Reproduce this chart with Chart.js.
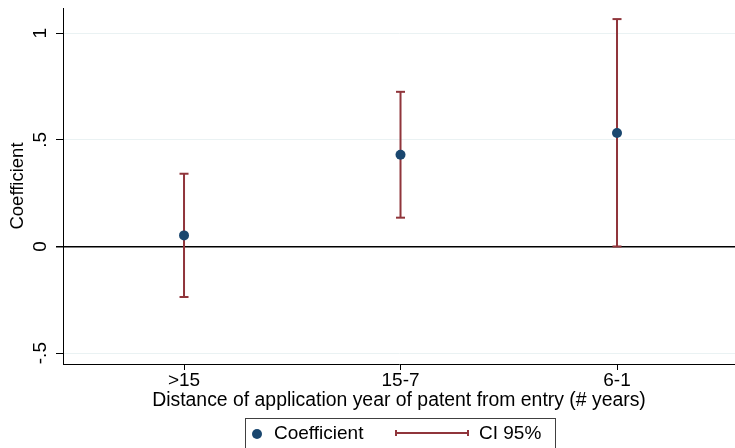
<!DOCTYPE html>
<html>
<head>
<meta charset="utf-8">
<script src="https://cdn.jsdelivr.net/npm/chart.js@4/dist/chart.umd.min.js"></script>
<style>
  html, body { margin: 0; padding: 0; background: #fff; }
  #wrap { position: relative; width: 735px; height: 448px; overflow: hidden; font-family: "Liberation Sans", Arial, sans-serif; }
  #legendBox { position: absolute; left: 245px; top: 418px; width: 311px; height: 40px; border: 1px solid #404040; box-sizing: border-box; }
  .abs { position: absolute; }
  .txt { font-size: 19px; line-height: 19px; color: #000; white-space: nowrap; }
</style>
</head>
<body>
<div id="wrap">
  <canvas id="coefChart" width="735" height="448"></canvas>
  <div id="legendBox"></div>
  <div class="abs" style="left:252px;top:429px;width:10px;height:10px;border-radius:50%;background:#1a476f"></div>
  <div class="abs txt" style="left:274px;top:423px">Coefficient</div>
  <div class="abs" style="left:395px;top:432px;width:74px;height:2px;background:#90353b"></div>
  <div class="abs" style="left:395px;top:430px;width:2px;height:6px;background:#90353b"></div>
  <div class="abs" style="left:467px;top:430px;width:2px;height:6px;background:#90353b"></div>
  <div class="abs txt" style="left:479px;top:423px">CI 95%</div>
</div>
<script>
// Data
const categories = [">15", "15-7", "6-1"];
const coefficients = [0.052, 0.43, 0.532];
const ciLower = [-0.237, 0.135, 0.0];
const ciUpper = [0.341, 0.725, 1.066];
const yTicks = [-0.5, 0, 0.5, 1];
const yTickLabels = ["-.5", "0", ".5", "1"];

const navy = "#1a476f";
const maroon = "#90353b";
const fontFamily = "'Liberation Sans', Arial, sans-serif";

// points for the coefficient markers
const coefPoints = categories.map((c, i) => ({ x: i + 1, y: coefficients[i] }));

// CI segments, separated by null gaps
const ciPoints = [];
categories.forEach((c, i) => {
    ciPoints.push({ x: i + 1, y: ciLower[i] });
    ciPoints.push({ x: i + 1, y: ciUpper[i] });
    ciPoints.push({ x: i + 1, y: null });
});

// rotated y tick labels, like Stata does them
const yLabelPlugin = {
    id: "yLabels",
    afterDraw(chart) {
        const ctx = chart.ctx;
        const yScale = chart.scales.y;
        ctx.save();
        ctx.fillStyle = "#000";
        ctx.font = "19px " + fontFamily;
        ctx.textAlign = "center";
        ctx.textBaseline = "alphabetic";
        yScale.ticks.forEach(t => {
            const idx = yTicks.indexOf(t.value);
            if (idx < 0) return;
            const py = yScale.getPixelForValue(t.value);
            ctx.save();
            ctx.translate(46, py);
            ctx.rotate(-Math.PI / 2);
            ctx.fillText(yTickLabels[idx], 0, 0);
            ctx.restore();
        });
        ctx.restore();
    }
};

new Chart(document.getElementById("coefChart"), {
    type: "scatter",
    data: {
        datasets: [
            {
                label: "Coefficient",
                data: coefPoints,
                backgroundColor: navy,
                borderColor: navy,
                pointRadius: 5,
                pointBorderWidth: 0,
                showLine: false
            },
            {
                label: "CI 95%",
                type: "line",
                data: ciPoints,
                borderColor: maroon,
                borderWidth: 2,
                spanGaps: false,
                pointStyle: "line",
                pointRadius: 4.5,
                pointBorderWidth: 2,
                pointBorderColor: maroon,
                pointBackgroundColor: maroon
            }
        ]
    },
    options: {
        responsive: false,
        animation: false,
        layout: { autoPadding: false, padding: { top: 8, bottom: 36, left: 0, right: 0 } },
        plugins: {
            legend: { display: false },
            tooltip: { enabled: false }
        },
        scales: {
            x: {
                type: "linear",
                min: 0.441,
                max: 3.545,
                afterBuildTicks: axis => { axis.ticks = categories.map((c, i) => ({ value: i + 1 })); },
                afterFit: axis => { axis.height = 48; axis.paddingLeft = 0; axis.paddingRight = 0; },
                ticks: {
                    callback: v => categories[v - 1],
                    color: "#000",
                    font: { family: fontFamily, size: 19 },
                    padding: -1,
                    maxRotation: 0
                },
                grid: { drawOnChartArea: false, drawTicks: true, tickLength: 6, tickColor: "#000", tickWidth: 1 },
                border: { display: true, color: "#000", width: 1 },
                title: {
                    display: true,
                    text: "Distance of application year of patent from entry (# years)",
                    color: "#000",
                    font: { family: fontFamily, size: 19.4 },
                    padding: { top: 0, bottom: 0 }
                }
            },
            y: {
                min: -0.551,
                max: 1.118,
                afterBuildTicks: axis => { axis.ticks = yTicks.map(v => ({ value: v })); },
                afterFit: axis => { axis.width = 63; axis.paddingTop = 0; axis.paddingBottom = 0; },
                ticks: { display: false },
                grid: {
                    color: c => (c.tick && c.tick.value === 0 ? "#000" : "#eaf2f3"),
                    lineWidth: c => (c.tick && c.tick.value === 0 ? 1.5 : 1),
                    drawTicks: true,
                    tickLength: 7,
                    tickColor: "#000"
                },
                border: { display: true, color: "#000", width: 1 },
                title: {
                    display: true,
                    text: "Coefficient",
                    color: "#000",
                    font: { family: fontFamily, size: 18.5 },
                    padding: { top: 7, bottom: 0 }
                }
            }
        }
    },
    plugins: [yLabelPlugin]
});
</script>
</body>
</html>
